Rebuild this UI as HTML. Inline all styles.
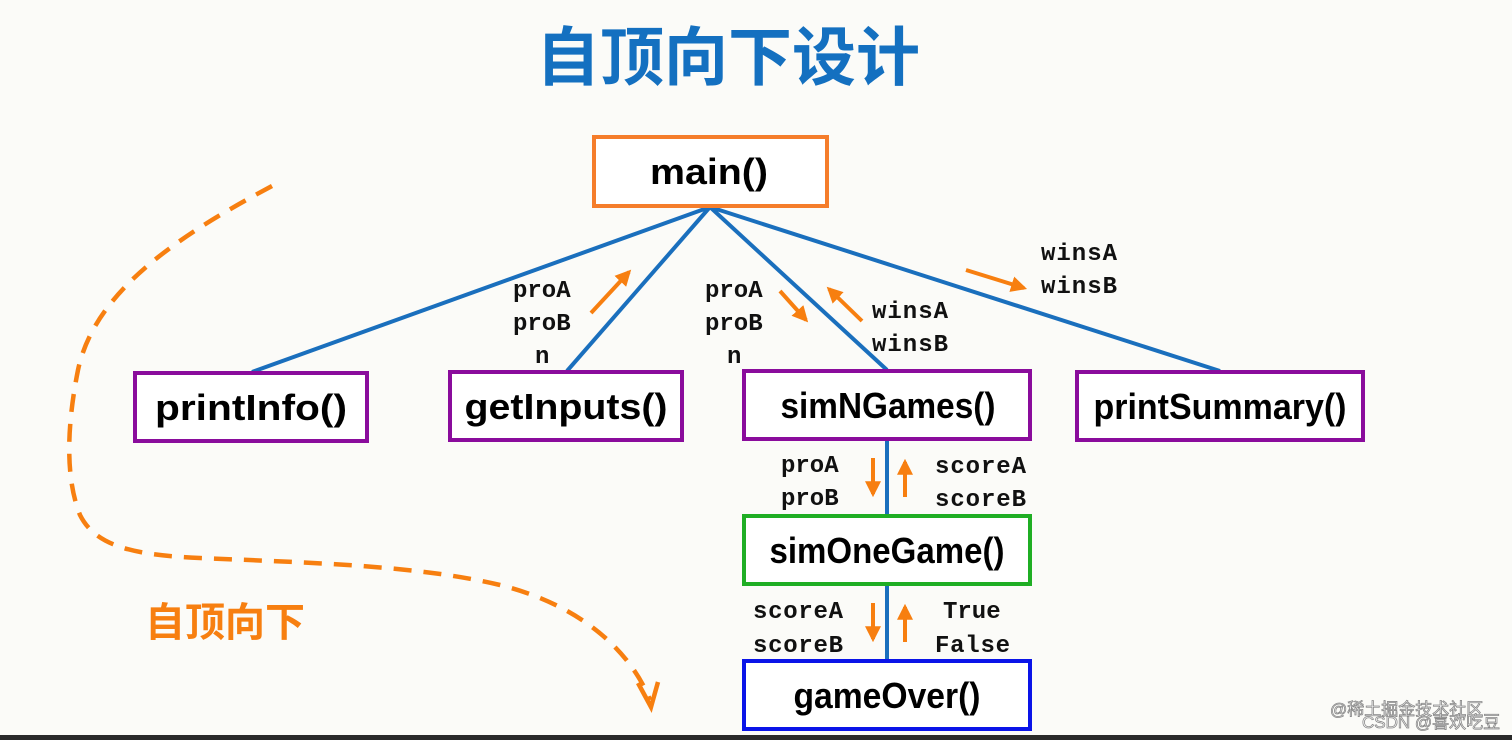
<!DOCTYPE html>
<html><head><meta charset="utf-8"><style>
html,body{margin:0;padding:0;background:#fbfbf8;}
svg{display:block}
.b{font-family:"Liberation Sans","Noto Sans CJK SC",sans-serif;font-weight:bold;font-size:36px;fill:#000;text-anchor:middle}
.m{font-family:"Liberation Mono","DejaVu Sans Mono",monospace;font-weight:bold;font-size:24px;fill:#111}
</style></head><body>
<svg width="1512" height="740" viewBox="0 0 1512 740" xmlns="http://www.w3.org/2000/svg">
<defs>
<marker id="ah" viewBox="0 0 10 10" refX="8" refY="5" markerWidth="4" markerHeight="4" orient="auto"><path d="M0,0 L10,5 L0,10 z" fill="#f77f10"/></marker>
</defs>
<rect width="1512" height="740" fill="#fbfbf8"/>
<text x="728" y="80" font-family="'Liberation Sans','Noto Sans CJK SC',sans-serif" font-weight="bold" font-size="64" fill="#1470c0" text-anchor="middle">自顶向下设计</text>

<g stroke="#1a6fbd" stroke-width="4" fill="none">
<line x1="710" y1="207" x2="252" y2="372"/>
<line x1="710" y1="207" x2="567" y2="371"/>
<line x1="710" y1="207" x2="887" y2="370"/>
<line x1="710" y1="207" x2="1220" y2="371"/>
<line x1="887" y1="440" x2="887" y2="515"/>
<line x1="887" y1="585" x2="887" y2="660"/>
</g>

<rect x="594" y="137" width="233" height="69" fill="#fff" stroke="#f57d2b" stroke-width="4"/>
<text class="b" x="709" y="184" textLength="118" lengthAdjust="spacingAndGlyphs">main()</text>
<g fill="#fff" stroke="#8a0c9c" stroke-width="4">
<rect x="135" y="373" width="232" height="68"/>
<rect x="450" y="372" width="232" height="68"/>
<rect x="744" y="371" width="286" height="68"/>
<rect x="1077" y="372" width="286" height="68"/>
</g>
<rect x="744" y="516" width="286" height="68" fill="#fff" stroke="#1fae24" stroke-width="4"/>
<rect x="744" y="661" width="286" height="68" fill="#fff" stroke="#0a14e8" stroke-width="4"/>
<text class="b" x="251" y="420" textLength="192" lengthAdjust="spacingAndGlyphs">printInfo()</text>
<text class="b" x="566" y="419" textLength="203" lengthAdjust="spacingAndGlyphs">getInputs()</text>
<text class="b" x="888" y="418" font-size="33" textLength="215" lengthAdjust="spacingAndGlyphs">simNGames()</text>
<text class="b" x="1220" y="419" font-size="33" textLength="253" lengthAdjust="spacingAndGlyphs">printSummary()</text>
<text class="b" x="887" y="563" font-size="33" textLength="235" lengthAdjust="spacingAndGlyphs">simOneGame()</text>
<text class="b" x="887" y="708" font-size="33" textLength="187" lengthAdjust="spacingAndGlyphs">gameOver()</text>

<g stroke="#f77f10" stroke-width="4" marker-end="url(#ah)">
<line x1="591" y1="313" x2="629" y2="272"/>
<line x1="780" y1="291" x2="806" y2="320"/>
<line x1="862" y1="321" x2="829" y2="289"/>
<line x1="966" y1="270" x2="1024" y2="288"/>
<line x1="873" y1="458" x2="873" y2="494"/>
<line x1="905" y1="497" x2="905" y2="462"/>
<line x1="873" y1="603" x2="873" y2="639"/>
<line x1="905" y1="642" x2="905" y2="607"/>
</g>

<g class="m">
<text x="513" y="297">proA</text><text x="513" y="330">proB</text><text x="535" y="363">n</text>
<text x="705" y="297">proA</text><text x="705" y="330">proB</text><text x="727" y="363">n</text>
<text x="872" y="318" textLength="76">winsA</text><text x="872" y="351" textLength="76">winsB</text>
<text x="1041" y="260" textLength="76">winsA</text><text x="1041" y="293" textLength="76">winsB</text>
<text x="781" y="472">proA</text><text x="781" y="505">proB</text>
<text x="935" y="473" textLength="91">scoreA</text><text x="935" y="506" textLength="91">scoreB</text>
<text x="753" y="618" textLength="90">scoreA</text><text x="753" y="652" textLength="90">scoreB</text>
<text x="943" y="618">True</text><text x="935" y="652" textLength="75">False</text>
</g>

<path d="M272,186 C180,235 95,290 78,370 C66,430 66,480 80,515 C95,545 130,555 200,558 C320,563 420,566 500,585 C580,605 630,650 650,700" fill="none" stroke="#f77f10" stroke-width="4.5" stroke-dasharray="18,12"/>
<polyline points="638,683 651,707 658,682" fill="none" stroke="#f77f10" stroke-width="4.5"/>
<text x="145" y="636" font-family="'Liberation Sans','Noto Sans CJK SC',sans-serif" font-weight="bold" font-size="40" fill="#f77f10">自顶向下</text>

<text x="1330" y="715" font-family="'Liberation Sans','Noto Sans CJK SC',sans-serif" font-size="17" fill="#fff" stroke="#888" stroke-width="0.8">@稀土掘金技术社区</text>
<text x="1362" y="728" font-family="'Liberation Sans','Noto Sans CJK SC',sans-serif" font-size="17" fill="#fff" stroke="#888" stroke-width="0.8">CSDN @喜欢吃豆</text>
<rect x="0" y="735" width="1512" height="5" fill="#2a2a2a"/>
</svg>
</body></html>
